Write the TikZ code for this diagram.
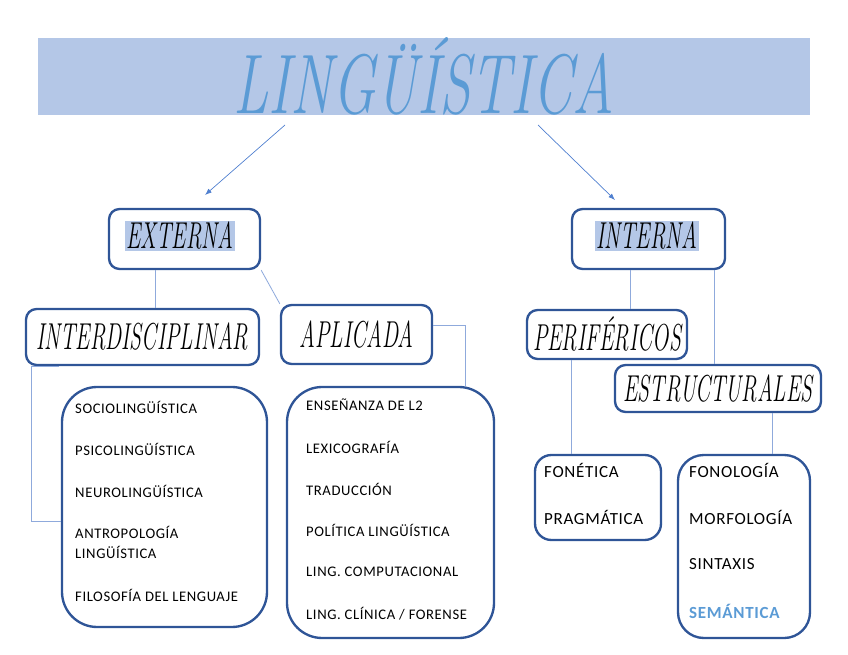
\documentclass[tikz,border=0pt]{standalone}
\usepackage{fontspec}
\usepackage{graphicx}
\newfontfamily\listfont{Carlito}[LetterSpace=4]
\usetikzlibrary{arrows.meta,calc,positioning,fit}
\definecolor{barblue}{HTML}{B4C7E7}
\definecolor{titleblue}{HTML}{5B9BD5}
\definecolor{frameblue}{HTML}{2F5597}
\definecolor{linkblue}{HTML}{8FAADC}
\definecolor{arrowblue}{HTML}{4F7FCF}
\newcommand\narrow[2][0.58]{\scalebox{#1}[1]{#2}}

\begin{document}
\begin{tikzpicture}[x=0.03cm, y=-0.03cm, >=Latex, font=\small]
  \tikzset{box/.style={draw=frameblue, line width=2pt, rounded corners=#1, inner sep=0pt},
    box/.default=9pt,
    head/.style={font=\fontsize{32}{32}\selectfont\itshape, inner sep=1pt},
    item/.style={anchor=west, align=left, inner sep=0pt, font=\listfont\fontsize{12.5}{17}\selectfont},
    bigitem/.style={item, font=\listfont\fontsize{14.5}{17}\selectfont},
    link/.style={linkblue, line width=0.7pt}}
  \useasboundingbox (0,0) rectangle (848,655);
  % title bar
  \node[fill=barblue, inner sep=0pt, fit={(38,38) (810,115)}] (title) {};
  \node[text=titleblue, font=\fontsize{72}{72}\selectfont\itshape] at (title) {\narrow[0.68]{LINGÜÍSTICA}};
  \coordinate (tl) at (285,125);
  \coordinate (tr) at (538,125);
  \coordinate (el) at (205,195);
  \coordinate (er) at (615,200);
  \draw[->, arrowblue, line width=0.6pt] (tl) -- (el);
  \draw[->, arrowblue, line width=0.6pt] (tr) -- (er);
  % headings
  \node[box, fit={(109,209) (260,269)}] (ext) {};
  \node[head, fill=barblue] at (180,236) {\narrow{EXTERNA}};
  \node[box, fit={(572,209) (725,269)}] (int) {};
  \node[head, fill=barblue] at (647,236) {\narrow{INTERNA}};
  \node[box, fit={(26,309) (259,365)}] (inter) {};
  \node[head] at (inter) {\narrow{INTERDISCIPLINAR}};
  \node[box, fit={(281,305) (432,364)}] (apl) {};
  \node[head] at (apl) {\narrow{APLICADA}};
  \node[box, fit={(527,310) (687,359)}] (per) {};
  \node[head] at (per) {\narrow{PERIFÉRICOS}};
  \node[box, fit={(615,365) (821,412)}] (est) {};
  \node[head] at (est) {\narrow{ESTRUCTURALES}};
  % lists
  \node[box=30pt, fit={(62,387) (267,627)}] (lbox) {};
  \node[box=30pt, fit={(287,387) (494,638)}] (mbox) {};
  \node[box=14pt, fit={(535,455) (661,540)}] (fbox) {};
  \node[box=22pt, fit={(678,455) (810,638)}] (sbox) {};
  \node[item] at (75,407) {SOCIOLINGÜÍSTICA};
  \node[item] at (75,449) {PSICOLINGÜÍSTICA};
  \node[item] at (75,491) {NEUROLINGÜÍSTICA};
  \node[item] at (75,542) {ANTROPOLOGÍA\\LINGÜÍSTICA};
  \node[item] at (75,595) {FILOSOFÍA DEL LENGUAJE};
  \node[item] at (306,405) {ENSEÑANZA DE L2};
  \node[item] at (306,447) {LEXICOGRAFÍA};
  \node[item] at (306,489) {TRADUCCIÓN};
  \node[item] at (306,530) {POLÍTICA LINGÜÍSTICA};
  \node[item] at (306,572) {LING. COMPUTACIONAL};
  \node[item] at (306,614) {LING. CLÍNICA / FORENSE};
  \node[bigitem] at (544,470) {FONÉTICA};
  \node[bigitem] at (544,517) {PRAGMÁTICA};
  \node[bigitem] at (689,470) {FONOLOGÍA};
  \node[bigitem] at (689,517) {MORFOLOGÍA};
  \node[bigitem] at (689,564) {SINTAXIS};
  \node[bigitem, text=titleblue] at (689,611) {\bfseries SEMÁNTICA};
  % connectors
  \draw[link] (ext.south west) ++(48,0) coordinate (e1) -- (e1 |- inter.north);
  \draw[link] (ext.south east) -- (apl.north west);
  \draw[link] (inter.south west) ++(34,0) -- ++(-27,0) |- ([yshift=-12pt]lbox.west);
  \draw[link] ([yshift=8pt]apl.east) -- ++(32,0) coordinate (a1) -- (a1 |- mbox.north);
  \draw[link] (int.south west) ++(60,0) coordinate (i1) -- (i1 |- per.north);
  \draw[link] (int.south west) ++(144,0) coordinate (i2) -- (i2 |- est.north);
  \draw[link] (per.south west) ++(46,0) coordinate (p1) -- (p1 |- fbox.north);
  \draw[link] (est.south west) ++(159,0) coordinate (s1) -- (s1 |- sbox.north);
\end{tikzpicture}
\end{document}
